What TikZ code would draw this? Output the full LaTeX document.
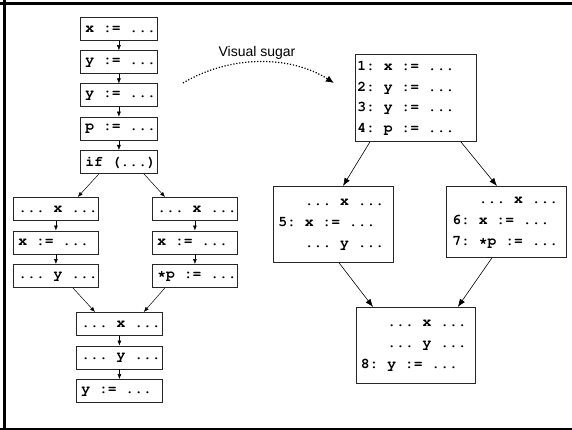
\documentclass[tikz,border=0pt]{standalone}
\usepackage[T1]{fontenc}
\usepackage{fontspec}
\setsansfont{Liberation Sans}
\usetikzlibrary{arrows.meta}
\newcommand{\lcode}{\fontencoding{T1}\fontfamily{pcr}\fontseries{b}\fontsize{14.7}{17}\selectfont}
\newcommand{\rcode}{\fontencoding{T1}\fontfamily{pcr}\fontseries{b}\fontsize{14.7}{20.8}\selectfont}
\newcommand{\sk}{\hphantom{0}}
\newcommand{\ind}{\hphantom{000}}
\newcommand{\dts}{...}
\newcommand{\as}[1]{#1\sk:=\sk\dts}
\newcommand{\us}[1]{\dts\sk#1\sk\dts}
\begin{document}
\begin{tikzpicture}[x=1pt,y=-1pt,
box/.style={draw=black!85,line width=0.8pt,anchor=north west,inner ysep=0pt,align=left},
lbox/.style={box,font=\lcode,inner xsep=5pt,minimum height=23pt},
rbox/.style={box,font=\rcode},
sarr/.style={-{Latex[length=5pt,width=4pt]},line width=0.5pt},
barr/.style={-{Latex[length=8pt,width=6pt]},line width=0.6pt}]
\useasboundingbox (0,0) rectangle (572,430);
\draw[line width=2.7pt] (0,3.3) -- (572,3.3);
\draw[line width=3pt] (4.5,0) -- (4.5,430);
\draw[line width=2pt] (0,428.5) -- (572,428.5);
\foreach \t [count=\i] in {\as{x},\as{y},\as{y},\as{p},if\sk(\dts)}
 \node[lbox,text width=67pt] (c-\i) at (80,{17+33.25*(\i-1)}) {\t};
\foreach \t [count=\i] in {\us{x},\as{x},\us{y}}
 \node[lbox,text width=75pt] (a-\i) at (13,{197+33.5*(\i-1)}) {\t};
\foreach \t [count=\i] in {\us{x},\as{x},\as{*p}}
 \node[lbox,text width=75pt] (b-\i) at (152,{197+33.5*(\i-1)}) {\t};
\foreach \t [count=\i] in {\us{x},\us{y},\as{y}}
 \node[lbox,text width=76pt] (m-\i) at (76,{312+33.5*(\i-1)}) {\t};
\foreach \i in {1,2,3,4}
 \draw[sarr] (c-\i) -- (c-\the\numexpr\i+1);
\foreach \X in {a,b,m}
{\foreach \i in {1,2}
 \draw[sarr] (\X-\i) -- (\X-\the\numexpr\i+1);}
\draw[sarr] ([xshift=19pt]c-5.south west) -- ([xshift=-21pt]a-1.north east);
\draw[sarr] ([xshift=-14pt]c-5.south east) -- ([xshift=13pt]b-1.north west);
\draw[sarr] ([xshift=-26pt]a-3.south east) -- ([xshift=19pt]m-1.north west);
\draw[sarr] ([xshift=13pt]b-3.south west) -- ([xshift=-19pt]m-1.north east);
\node[rbox,inner xsep=2pt,text width=117pt,minimum height=87pt] (r-1) at (355,54)
 {1:\sk\as{x}\\2:\sk\as{y}\\3:\sk\as{y}\\4:\sk\as{p}};
\node[rbox,inner xsep=5pt,text width=110pt,minimum height=76pt] (r-2) at (273,186)
 {\ind\us{x}\\5:\sk\as{x}\\\ind\us{y}};
\node[rbox,inner xsep=6pt,text width=108pt,minimum height=71pt] (r-3) at (446,186)
 {\ind\us{x}\\6:\sk\as{x}\\7:\sk\as{*p}};
\node[rbox,inner xsep=4.5pt,text width=110pt,minimum height=76pt] (r-4) at (356,307)
 {\ind\us{x}\\\ind\us{y}\\8:\sk\as{y}};
\draw[barr] ([xshift=15pt]r-1.south west) -- ([xshift=70pt]r-2.north west);
\draw[barr] ([xshift=-16pt]r-1.south east) -- ([xshift=51pt]r-3.north west);
\draw[barr] ([xshift=66pt]r-2.south west) -- ([xshift=17pt]r-4.north west);
\draw[barr] ([xshift=46pt]r-3.south west) -- ([xshift=-18pt]r-4.north east);
\coordinate (s) at (183,83);
\coordinate (e) at (334,83);
\draw[line width=1.2pt,dash pattern=on 1.2pt off 1.8pt,-{Latex[length=8pt,width=7pt]}]
 (s) .. controls (230,55) and (290,55) .. (e);
\node[font=\sffamily\fontsize{14}{16}\selectfont] (lbl) at (257,53) {Visual sugar};
\end{tikzpicture}
\end{document}
